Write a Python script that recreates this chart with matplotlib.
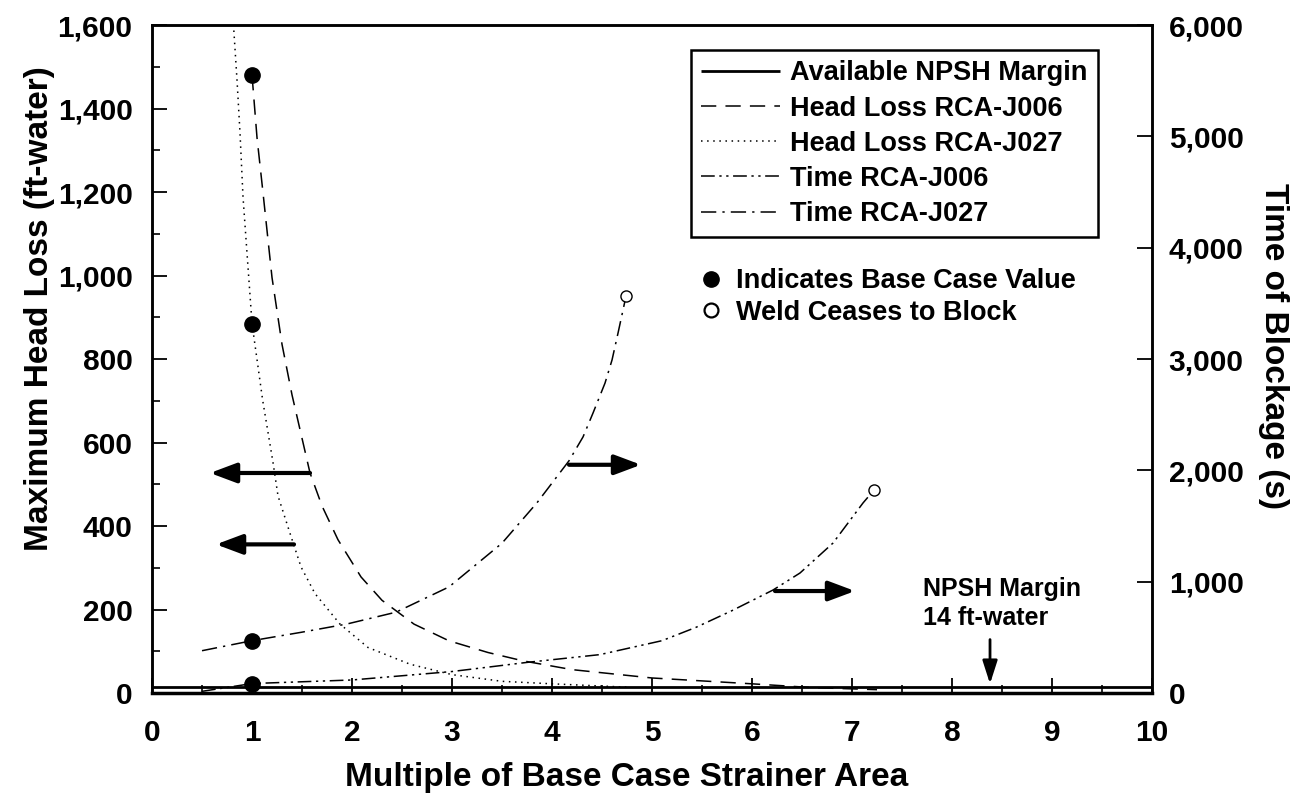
import matplotlib
matplotlib.use("Agg")
import matplotlib.pyplot as plt
from matplotlib.lines import Line2D
from matplotlib.ticker import FuncFormatter, MultipleLocator

plt.rcParams['font.family'] = ['Liberation Sans', 'DejaVu Sans']
plt.rcParams['font.weight'] = 'bold'

# ---------------- data ----------------
# Head loss RCA-J006 (ft-water, left axis)
hl_j006_x = [1.0, 1.05, 1.11, 1.2, 1.3, 1.4, 1.58, 1.7, 1.86, 2.09, 2.3, 2.62, 2.97,
             3.36, 3.71, 4.2, 4.6, 5.0, 5.5, 6.0, 6.6, 7.25]
hl_j006_y = [1480, 1330, 1198, 995, 835, 714, 527, 448, 367, 278, 222, 165, 125,
             97, 77, 56, 46, 36, 29, 22, 13, 8]
# Head loss RCA-J027 (ft-water, left axis)
hl_j027_x = [0.8, 0.82, 0.85, 0.88, 0.91, 1.0, 1.106, 1.21, 1.26, 1.39, 1.49, 1.63,
             1.88, 2.16, 2.58, 3.0, 3.5, 4.0, 4.56, 4.75]
hl_j027_y = [1660, 1580, 1468, 1341, 1188, 885, 702, 552, 472, 375, 302, 238,
             165, 109, 69, 44, 28, 22, 16, 14]
# Time of blockage RCA-J006 (s, right axis)
t_j006_x = [0.5, 1.0, 2.0, 3.0, 3.75, 4.48, 5.1, 5.44, 5.8, 6.21, 6.48, 6.81, 7.11, 7.22]
t_j006_y = [15, 85, 117, 193, 275, 345, 470, 590, 740, 925, 1078, 1347, 1707, 1823]
# Time of blockage RCA-J027 (s, right axis)
t_j027_x = [0.5, 1.0, 1.49, 1.95, 2.44, 2.97, 3.5, 3.85, 4.17, 4.31, 4.41, 4.53,
            4.60, 4.66, 4.71, 4.74]
t_j027_y = [380, 470, 545, 620, 726, 953, 1346, 1709, 2086, 2300, 2515, 2784,
            2991, 3233, 3440, 3566]
# Available NPSH margin (ft-water)
npsh_x = [0, 10]
npsh_y = [14, 14]

# Base case values (x = 1) and points where weld ceases to block
base_x = 1.0
base_hl_j006 = 1480
base_hl_j027 = 885
base_t_j027 = 470
base_t_j006 = 85
cease_j027 = (4.74, 3566)
cease_j006 = (7.22, 1823)

x_ticks = list(range(0, 11))
left_ticks = list(range(0, 1601, 200))
right_ticks = list(range(0, 6001, 1000))

# ---------------- figure ----------------
fig = plt.figure(figsize=(12.96, 8.02), dpi=100)
ax = fig.add_axes([0.1173, 0.1359, 0.7716, 0.8329])
ax2 = ax.twinx()

lw = 1.1
l_npsh, = ax.plot(npsh_x, npsh_y, color='black', lw=2.0, solid_capstyle='butt',
                  label='Available NPSH Margin')
l_hl6, = ax.plot(hl_j006_x, hl_j006_y, color='black', lw=lw,
                 dashes=(10, 6), label='Head Loss RCA-J006')
l_hl27, = ax.plot(hl_j027_x, hl_j027_y, color='black', lw=lw,
                  dashes=(1, 3), label='Head Loss RCA-J027')
l_t6, = ax2.plot(t_j006_x, t_j006_y, color='black', lw=lw,
                 dashes=(9, 3, 1.5, 3, 1.5, 3), label='Time RCA-J006')
l_t27, = ax2.plot(t_j027_x, t_j027_y, color='black', lw=lw,
                  dashes=(10, 4, 1.5, 4), label='Time RCA-J027')

# markers
ax.plot([base_x, base_x], [base_hl_j006, base_hl_j027], 'o', color='black', ms=11, zorder=5)
ax2.plot([base_x, base_x], [base_t_j027, base_t_j006], 'o', color='black', ms=11, zorder=5)
ax2.plot([cease_j027[0], cease_j006[0]], [cease_j027[1], cease_j006[1]], 'o',
         mfc='white', mec='black', mew=1.0, ms=8, zorder=5)

# axes limits / ticks
ax.set_xlim(0, 10)
ax.set_ylim(0, 1600)
ax2.set_ylim(0, 6000)
ax.set_xticks(x_ticks)
ax.set_yticks(left_ticks)
ax2.set_yticks(right_ticks)
ax.xaxis.set_minor_locator(MultipleLocator(0.5))
ax.yaxis.set_minor_locator(MultipleLocator(100))
fmt = FuncFormatter(lambda v, p: f"{v:,.0f}")
ax.yaxis.set_major_formatter(fmt)
ax2.yaxis.set_major_formatter(fmt)

ax.tick_params(axis='both', which='major', direction='in', length=11, width=1.3,
               labelsize=21.5)
ax.tick_params(axis='both', which='minor', direction='in', length=6, width=1.2)
ax.tick_params(axis='x', which='major', pad=19)
ax.tick_params(axis='y', which='major', pad=14)
ax.tick_params(top=False, which='both')
ax2.tick_params(axis='y', which='major', direction='in', length=11, width=1.3,
                labelsize=21.5, pad=12)

for a in (ax, ax2):
    for s in a.spines.values():
        s.set_linewidth(1.8)
ax.spines['bottom'].set_linewidth(2.5)

ax.set_xlabel('Multiple of Base Case Strainer Area', fontsize=24, fontweight='bold')
ax.set_ylabel('Maximum Head Loss (ft-water)', fontsize=24, fontweight='bold')
ax2.set_ylabel('Time of Blockage (s)', fontsize=24, fontweight='bold', rotation=270)
ax.xaxis.set_label_coords(0.475, -0.103)
ax.yaxis.set_label_coords(-0.097, 0.576)
ax2.yaxis.set_label_coords(1.137, 0.52)

# arrows
arrow_kw = dict(arrowstyle='-|>,head_length=1.6,head_width=0.6', lw=3, color='black',
                shrinkA=0, shrinkB=0)
left_arrows = [((1.58, 527), (0.58, 527)), ((1.42, 356), (0.64, 356))]
for tail, head in left_arrows:
    ax.annotate('', xy=head, xytext=tail, arrowprops=arrow_kw)
right_arrows = [((4.17, 2050), (4.89, 2050)), ((6.23, 916), (7.03, 916))]
for tail, head in right_arrows:
    ax2.annotate('', xy=head, xytext=tail, arrowprops=arrow_kw)
ax.annotate('', xy=(8.38, 22), xytext=(8.38, 128),
            arrowprops=dict(arrowstyle='-|>,head_length=1.4,head_width=0.45', lw=2,
                            color='black', shrinkA=0, shrinkB=0))
ax.text(7.71, 214, 'NPSH Margin\n14 ft-water', fontsize=18, fontweight='bold',
        ha='left', va='center', linespacing=1.25)

# legends
leg = ax2.legend(handles=[l_npsh, l_hl6, l_hl27, l_t6, l_t27], loc='upper right',
                 bbox_to_anchor=(0.946, 0.9626), borderaxespad=0, fancybox=False,
                 edgecolor='black', framealpha=1, fontsize=19.5, handlelength=2.9,
                 handletextpad=0.4, labelspacing=0.34, borderpad=0.38)
leg.get_frame().set_linewidth(1.8)
ax2.add_artist(leg)
note_handles = [Line2D([], [], marker='o', ls='none', color='black', ms=11),
                Line2D([], [], marker='o', ls='none', mfc='white', mec='black',
                       mew=1.6, ms=10)]
ax2.legend(handles=note_handles,
           labels=['Indicates Base Case Value', 'Weld Ceases to Block'],
           loc='upper left', bbox_to_anchor=(0.535, 0.652), borderaxespad=0,
           frameon=False, fontsize=19.5, handlelength=1.0, handletextpad=0.4,
           labelspacing=0.2)

fig.savefig('out.png', dpi=100)
